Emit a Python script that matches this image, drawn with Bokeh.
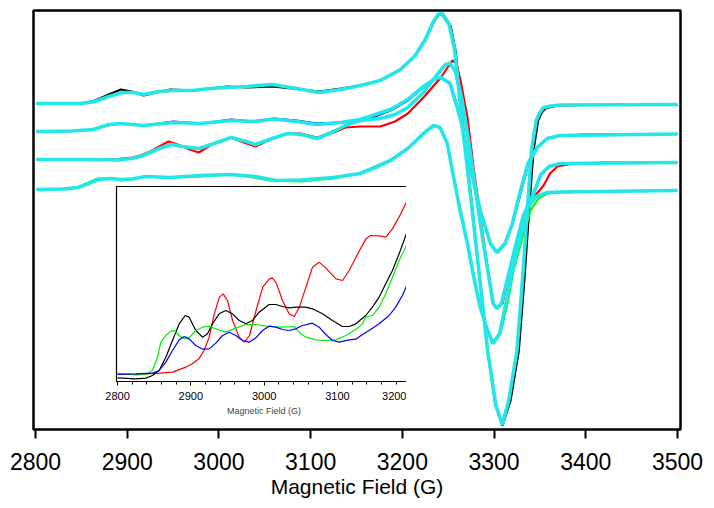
from bokeh.plotting import figure
from bokeh.models import Range1d, FixedTicker
from bokeh.layouts import column
from bokeh.embed import file_html
from bokeh.resources import INLINE

# ---------------- main spectra (field in G, signal in arbitrary units) ----------------
black_field = [2801, 2850, 2865, 2880, 2893, 2905, 2918, 2932, 2947, 2960, 2972, 2990, 3009, 3030, 3058, 3085, 3109, 3133, 3154, 3176, 3198, 3214, 3225, 3234, 3239, 3244, 3252.5, 3258, 3266.7, 3275.4, 3284, 3292.9, 3301.6, 3309.2, 3318, 3327, 3333, 3339, 3343, 3348, 3352, 3356, 3364, 3372, 3400, 3500]
black_signal = [326, 326, 329, 335, 340, 338, 334, 337, 340, 339.5, 339, 341, 343, 342, 343, 340.5, 338, 341, 344, 349, 360, 374, 389, 407, 414, 416, 404, 379, 299, 229, 154, 79, 24, 4, 29, 79, 149, 229, 279, 309, 317, 321, 323, 324, 324.5, 324.5]
black_fit_field = [2801, 2850, 2865, 2880, 2895, 2907, 2918, 2935, 2950, 2972, 2990, 3009, 3030, 3058, 3085, 3109, 3133, 3154, 3176, 3198, 3214, 3225, 3234, 3239, 3243, 3251, 3257, 3266, 3275, 3284, 3293, 3302, 3309, 3316, 3325, 3331, 3337, 3341, 3346, 3350, 3354, 3362, 3372, 3500]
black_fit_signal = [326, 326, 328, 333, 337, 337, 335, 338, 339, 339, 341, 342, 343, 345, 341, 337, 340, 344, 349, 360, 374, 390, 408, 415, 416, 405, 380, 300, 229, 154, 79, 24, 5, 29, 79, 149, 229, 280, 309, 317, 322, 323.5, 324.5, 325]

blue_field = [2801, 2840, 2863, 2878, 2893, 2918, 2935, 2950, 2965, 2980, 2997, 3013, 3038, 3060, 3085, 3107, 3133, 3154, 3170, 3187, 3206, 3223, 3235, 3241.6, 3252.5, 3263.4, 3274.3, 3285.2, 3296.1, 3303.8, 3312.5, 3320.1, 3328.8, 3337.6, 3347.4, 3358.3, 3372.5, 3400, 3500]
blue_signal = [298, 298.5, 300, 304, 306, 304, 306, 308, 307, 306, 308, 310, 308, 311, 309, 306, 307, 309, 313, 319, 329, 342, 350, 352, 346, 312, 262, 219, 186, 177, 186, 206, 236, 266, 282, 291, 294, 295, 295.5]
blue_fit_field = [2801, 2840, 2863, 2880, 2893, 2918, 2950, 2980, 3013, 3038, 3060, 3085, 3107, 3133, 3154, 3187, 3206, 3223, 3236, 3242, 3252, 3263, 3274, 3285, 3296, 3303, 3312, 3320, 3328, 3337, 3347, 3358, 3372, 3500]
blue_fit_signal = [298, 298.5, 300, 305, 306, 304, 307, 306, 309, 308, 310.5, 308, 305, 307, 310, 320, 330, 343, 351, 352, 346, 312, 262, 219, 186, 177, 186, 206, 236, 266, 282, 291, 294, 295.5]

red_field = [2801, 2860, 2889, 2905, 2914, 2925, 2933, 2945, 2958, 2968, 2978, 2994, 3013, 3027, 3040, 3056, 3075, 3089, 3107, 3125, 3138, 3154, 3176, 3192, 3206, 3223, 3242, 3250, 3254.7, 3259, 3263.4, 3271, 3277.6, 3285.2, 3292.9, 3299.4, 3303.8, 3309.2, 3315.8, 3323.4, 3332, 3343, 3354, 3361, 3369, 3387, 3420, 3500]
red_signal = [270, 270, 270.5, 272, 274, 278, 282, 288, 284, 280, 277, 286, 292, 287, 283, 290, 296, 296, 292, 297, 302, 303, 303, 308, 316, 332, 352, 363, 369, 366, 349, 312, 262, 212, 162, 126, 121, 126, 152, 182, 212, 232, 244, 256, 263, 266, 267, 267]
red_fit_field = [2801, 2860, 2889, 2905, 2914, 2925, 2935, 2948, 2960, 2978, 2995, 3013, 3030, 3040, 3058, 3075, 3090, 3107, 3125, 3140, 3154, 3176, 3192, 3206, 3223, 3238, 3247, 3252, 3258, 3265, 3272, 3279, 3286, 3293, 3299, 3303, 3308, 3315, 3323, 3332, 3343, 3351, 3360, 3372, 3500]
red_fit_signal = [270, 270, 269.5, 271, 273, 277, 281, 285, 283, 281, 286, 292, 288, 285, 291, 296, 295, 291, 298, 305, 309, 311, 315, 322, 337, 355, 365, 366, 358, 330, 290, 245, 200, 160, 126, 121, 126, 152, 182, 214, 236, 255, 263, 266, 267]

green_field = [2801, 2830, 2846, 2858, 2868, 2882, 2893, 2905, 2920, 2935, 2947, 2965, 2980, 3013, 3031, 3056, 3089, 3125, 3154, 3170, 3187, 3206, 3223, 3234, 3241.6, 3249.2, 3255.8, 3263.4, 3271, 3277.6, 3285.2, 3292.9, 3299.4, 3307, 3314.7, 3321.2, 3331, 3339.7, 3348.4, 3358.3, 3372.5, 3420, 3500]
green_signal = [240, 240.5, 242, 247, 251, 251, 249, 250, 253, 252.5, 252, 252.5, 253, 255, 253, 249, 248, 251, 256, 261, 269, 281, 296, 304, 302, 286, 252, 219, 186, 152, 122, 99, 86, 96, 126, 159, 192, 219, 231, 236, 237, 238.5, 239]
green_fit_field = [2801, 2830, 2846, 2858, 2868, 2882, 2893, 2905, 2920, 2947, 2980, 3013, 3040, 3062, 3089, 3125, 3154, 3187, 3206, 3223, 3234, 3241, 3249, 3256, 3263, 3271, 3278, 3285, 3293, 3299, 3306, 3313, 3320, 3329, 3337, 3346, 3358, 3372, 3500]
green_fit_signal = [240, 240.5, 242, 246, 250, 251, 250, 250.5, 253, 252, 254, 255, 253, 249, 249.5, 252, 256, 269, 281, 296, 304, 302, 286, 252, 219, 186, 152, 122, 99, 86, 96, 126, 159, 194, 222, 233, 237, 237.5, 239]

main_ticks = [2800, 2900, 3000, 3100, 3200, 3300, 3400, 3500]

# ---------------- inset (low-field region) ----------------
inset_red_field = [2800, 2825, 2857, 2875, 2893, 2902, 2911, 2918, 2925, 2932, 2939, 2944, 2950, 2957, 2966, 2973, 2980, 2989, 2998, 3007, 3011, 3016, 3025, 3034, 3041, 3048, 3057, 3066, 3075, 3084, 3098, 3107, 3116, 3130, 3139, 3145, 3157, 3166, 3175, 3184, 3193, 3200]
inset_red_signal = [23, 21, 25, 28, 43, 53, 68, 93, 133, 203, 253, 263, 243, 183, 133, 118, 138, 213, 283, 308, 311, 298, 243, 203, 195, 223, 283, 343, 358, 341, 308, 303, 333, 393, 428, 438, 437, 433, 458, 493, 533, 573]

inset_black_field = [2800, 2825, 2838.6, 2847.7, 2856.8, 2865.9, 2875, 2884.1, 2892.3, 2897.7, 2906.8, 2915.9, 2922.7, 2929.5, 2938.6, 2947.7, 2956.8, 2965.9, 2975, 2984.1, 2993.2, 3006.8, 3015.9, 3025, 3034.1, 3043.2, 3056.8, 3065.9, 3079.5, 3093.2, 3106.8, 3115.9, 3125, 3138.6, 3147.7, 3156.8, 3165.9, 3175, 3184.1, 3193.2, 3200]
inset_black_signal = [11, 8, 10, 18, 33, 73, 123, 173, 198, 193, 153, 133, 143, 173, 203, 213, 203, 183, 173, 183, 208, 231, 231, 225, 221, 223, 223, 218, 203, 183, 165, 165, 173, 198, 223, 253, 293, 333, 383, 438, 478]

inset_green_field = [2800, 2825, 2838.6, 2847.7, 2854.5, 2859.1, 2865.9, 2872.7, 2877.3, 2884.1, 2890.9, 2897.7, 2906.8, 2915.9, 2925, 2936.4, 2947.7, 2961.4, 2975, 2988.6, 3002.3, 3011.4, 3025, 3040.9, 3047.7, 3056.8, 3070.5, 3084.1, 3097.7, 3111.4, 3125, 3134.1, 3138.6, 3147.7, 3156.8, 3165.9, 3175, 3184.1, 3193.2, 3200]
inset_green_signal = [25, 20, 21, 33, 73, 118, 138, 151, 153, 138, 128, 131, 153, 163, 166, 156, 148, 160, 171, 171, 166, 165, 163, 165, 148, 133, 125, 123, 125, 138, 156, 173, 193, 198, 223, 263, 313, 363, 403, 443]

inset_blue_field = [2800, 2825, 2847.7, 2856.8, 2865.9, 2875, 2884.1, 2890.9, 2897.7, 2906.8, 2915.9, 2925, 2934.1, 2943.2, 2952.3, 2961.4, 2970.5, 2979.5, 2988.6, 2997.7, 3006.8, 3015.9, 3025, 3034.1, 3043.2, 3052.3, 3065.9, 3075, 3084.1, 3093.2, 3102.3, 3115.9, 3125, 3134.1, 3143.2, 3156.8, 3170.5, 3179.5, 3188.6, 3195.5, 3200]
inset_blue_signal = [21, 23, 25, 33, 58, 93, 125, 135, 128, 108, 97, 98, 115, 138, 148, 138, 123, 118, 131, 153, 166, 163, 156, 153, 158, 168, 175, 163, 141, 123, 118, 125, 127, 141, 153, 173, 198, 223, 258, 293, 308]

inset_ticks = [2800, 2900, 3000, 3100, 3200]
inset_minor_ticks = [2820, 2840, 2860, 2880, 2920, 2940, 2960, 2980, 3020, 3040, 3060, 3080, 3120, 3140, 3160, 3180]

FIT = "#22e6e8"
FONT = "Liberation Sans"

MAIN_TOP, MAIN_FRAME_H, MAIN_BOTTOM = 10, 419, 78
MAIN_H = MAIN_TOP + MAIN_FRAME_H + MAIN_BOTTOM
INSET_TOP, INSET_FRAME_H, INSET_BOTTOM = 1, 195, 36
INSET_H = INSET_TOP + INSET_FRAME_H + INSET_BOTTOM

# ---------------- main figure ----------------
p = figure(frame_width=647, frame_height=MAIN_FRAME_H,
           x_range=Range1d(2797.8, 3503.3), y_range=Range1d(0, 419),
           output_backend="svg", toolbar_location=None,
           min_border_left=33, min_border_right=25, min_border_top=MAIN_TOP,
           min_border_bottom=MAIN_BOTTOM)
p.outline_line_color = "black"
p.outline_line_width = 2.5
p.xgrid.visible = False
p.ygrid.visible = False
p.yaxis.visible = False
ax = p.xaxis[0]
ax.ticker = FixedTicker(ticks=main_ticks)
ax.axis_line_color = None
ax.major_tick_in = 0
ax.major_tick_out = 9
ax.major_tick_line_width = 2
ax.minor_tick_out = 0
ax.minor_tick_in = 0
ax.major_label_text_font = FONT
ax.major_label_text_font_size = "23px"
ax.major_label_text_color = "black"
ax.major_label_standoff = 14
ax.axis_label = "Magnetic Field (G)"
ax.axis_label_text_font = FONT
ax.axis_label_text_font_size = "21px"
ax.axis_label_text_font_style = "normal"
ax.axis_label_text_color = "black"
ax.axis_label_standoff = 2

for f, s, c in [(black_field, black_signal, "black"),
                (blue_field, blue_signal, "blue"),
                (red_field, red_signal, "red"),
                (green_field, green_signal, "#00ff00")]:
    p.line(f, s, line_color=c, line_width=2.2)
for f, s in [(black_fit_field, black_fit_signal),
             (blue_fit_field, blue_fit_signal),
             (red_fit_field, red_fit_signal),
             (green_fit_field, green_fit_signal)]:
    p.line(f, s, line_color=FIT, line_width=3.6)

# ---------------- inset figure ----------------
q = figure(frame_width=295, frame_height=INSET_FRAME_H,
           x_range=Range1d(2798.6, 3201), y_range=Range1d(0, 585),
           output_backend="svg", toolbar_location=None,
           min_border_left=14, min_border_right=14, min_border_top=INSET_TOP,
           min_border_bottom=INSET_BOTTOM,
           border_fill_alpha=0, background_fill_color="white")
q.outline_line_color = "black"
q.outline_line_width = 1.2
q.xgrid.visible = False
q.ygrid.visible = False
q.yaxis.visible = False
qa = q.xaxis[0]
qa.ticker = FixedTicker(ticks=inset_ticks, minor_ticks=inset_minor_ticks)
qa.axis_line_color = None
qa.major_tick_in = 0
qa.major_tick_out = 4
qa.minor_tick_in = 0
qa.minor_tick_out = 3
qa.major_tick_line_width = 1
qa.minor_tick_line_width = 1
qa.major_label_text_font = FONT
qa.major_label_text_font_size = "11px"
qa.major_label_text_color = "black"
qa.major_label_standoff = 6
qa.axis_label = "Magnetic Field (G)"
qa.axis_label_text_font = FONT
qa.axis_label_text_font_size = "9px"
qa.axis_label_text_font_style = "normal"
qa.axis_label_standoff = 3

for f, s, c in [(inset_red_field, inset_red_signal, "red"),
                (inset_black_field, inset_black_signal, "black"),
                (inset_green_field, inset_green_signal, "#00ee00"),
                (inset_blue_field, inset_blue_signal, "blue")]:
    q.line(f, s, line_color=c, line_width=1.2)

# overlay the inset on the main figure
inset_top_px = 185
q.margin = (inset_top_px - MAIN_H, 0, MAIN_H - inset_top_px - INSET_H, 83)
layout = column(p, q, spacing=0)

open("out.html", "w").write(file_html(layout, INLINE))
